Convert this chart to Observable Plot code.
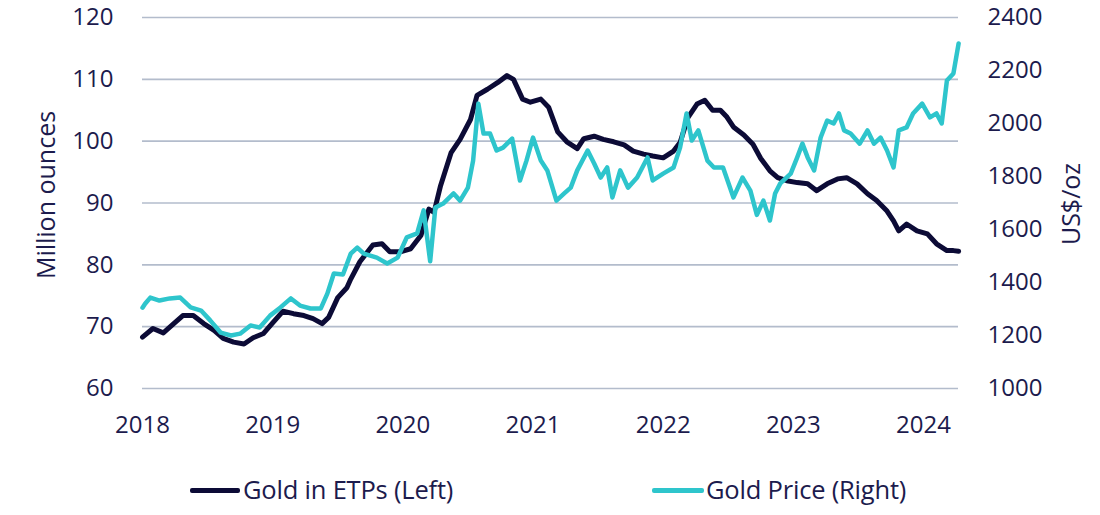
<!DOCTYPE html>
<html>
<head>
<meta charset="utf-8">
<script src="https://cdn.jsdelivr.net/npm/d3@7"></script>
<script src="https://cdn.jsdelivr.net/npm/@observablehq/plot@0.6"></script>
<style>
  html, body { margin: 0; padding: 0; background: #ffffff; }
  #wrap { position: relative; width: 1100px; height: 515px; font-family: "Open Sans", sans-serif; color: #1c1b4d; }
  #chart { position: absolute; left: 0; top: 0; }
  .sw { position: absolute; height: 5px; border-radius: 2px; }
  .lt { position: absolute; font-size: 25.5px; line-height: 30px; white-space: nowrap; letter-spacing: -0.2px; }
</style>
</head>
<body>
<div id="wrap">
  <div id="chart"></div>
  <div class="sw" style="left:190px; top:488px; width:50px; background:#0c0b36;"></div>
  <div class="lt" id="lt1" style="left:243px; top:474px;">Gold in ETPs (Left)</div>
  <div class="sw" style="left:652px; top:488px; width:52px; background:#2ec5cc;"></div>
  <div class="lt" id="lt2" style="left:706px; top:474px;">Gold Price (Right)</div>
</div>
<script>
// Gold held in ETPs, million ounces (left axis), by decimal year
const etpYear = [2018.00,2018.08,2018.16,2018.24,2018.31,2018.39,2018.47,2018.55,2018.62,2018.70,2018.78,2018.85,2018.93,
  2019.00,2019.08,2019.16,2019.24,2019.31,2019.38,2019.43,2019.50,2019.57,2019.60,2019.67,2019.77,2019.84,2019.90,2019.98,
  2020.06,2020.14,2020.20,2020.24,2020.29,2020.37,2020.44,2020.52,2020.57,2020.65,2020.73,2020.80,2020.85,2020.92,2020.98,
  2021.06,2021.12,2021.19,2021.26,2021.34,2021.39,2021.47,2021.54,2021.62,2021.70,2021.77,2021.85,2021.92,
  2022.00,2022.08,2022.13,2022.19,2022.26,2022.32,2022.38,2022.44,2022.49,2022.54,2022.62,2022.69,2022.75,2022.82,2022.88,2022.95,
  2023.03,2023.11,2023.18,2023.26,2023.34,2023.41,2023.49,2023.57,2023.64,2023.72,2023.77,2023.81,2023.87,2023.95,
  2024.03,2024.10,2024.18,2024.23,2024.27];
const etpMoz = [68.3,69.7,69.0,70.5,71.8,71.8,70.5,69.4,68.1,67.5,67.2,68.2,68.9,
  70.6,72.5,72.1,71.8,71.3,70.5,71.5,74.7,76.3,77.7,80.5,83.2,83.4,82.1,82.1,
  82.6,84.8,89.0,88.5,92.8,98.1,100.3,103.5,107.4,108.4,109.5,110.6,110.0,106.8,106.3,
  106.8,105.5,101.5,99.9,98.8,100.4,100.8,100.3,99.9,99.4,98.4,97.9,97.6,
  97.3,98.4,99.8,103.8,106.0,106.6,105.0,105.0,103.9,102.3,101.0,99.5,97.2,95.2,94.1,93.6,
  93.3,93.1,92.0,93.1,93.9,94.1,93.1,91.5,90.4,88.7,87.1,85.5,86.6,85.5,
  85.0,83.4,82.3,82.3,82.2];

// Gold price, US$/oz (right axis), by decimal year
const priceYear = [2018.00,2018.02,2018.06,2018.13,2018.21,2018.29,2018.37,2018.45,2018.52,2018.60,2018.68,2018.75,2018.83,2018.90,2018.98,
  2019.06,2019.14,2019.21,2019.29,2019.37,2019.42,2019.47,2019.54,2019.60,2019.65,2019.70,2019.80,2019.88,2019.96,
  2020.03,2020.11,2020.16,2020.21,2020.25,2020.31,2020.39,2020.44,2020.50,2020.54,2020.58,2020.62,2020.67,2020.72,2020.77,2020.84,2020.90,2020.95,
  2021.00,2021.06,2021.11,2021.18,2021.24,2021.29,2021.34,2021.42,2021.47,2021.52,2021.57,2021.61,2021.67,2021.73,2021.80,2021.88,2021.92,
  2022.00,2022.08,2022.13,2022.18,2022.22,2022.27,2022.34,2022.39,2022.46,2022.54,2022.61,2022.67,2022.72,2022.77,2022.82,2022.86,2022.90,2022.98,
  2023.03,2023.07,2023.11,2023.16,2023.21,2023.26,2023.31,2023.35,2023.39,2023.44,2023.51,2023.57,2023.62,2023.67,2023.72,2023.77,2023.81,2023.87,2023.92,2023.99,
  2024.05,2024.10,2024.14,2024.18,2024.23,2024.27];
const priceUsd = [1305,1320,1343,1332,1340,1343,1306,1294,1257,1211,1200,1207,1238,1230,1275,
  1306,1340,1313,1302,1302,1358,1434,1430,1509,1532,1509,1494,1472,1494,
  1570,1585,1672,1480,1683,1698,1736,1709,1758,1860,2075,1962,1962,1898,1909,1943,1785,1860,
  1947,1860,1823,1709,1736,1758,1823,1898,1849,1796,1834,1721,1823,1758,1796,1872,1785,
  1811,1834,1909,2038,1936,1974,1860,1834,1834,1721,1796,1747,1655,1709,1634,1736,1774,1811,
  1872,1924,1872,1823,1947,2011,2000,2038,1974,1962,1924,1974,1924,1947,1898,1834,1974,1985,2038,2075,
  2023,2038,2000,2162,2189,2302];

const yearTicks = [2018, 2019, 2020, 2021, 2022, 2023, 2024];
const leftTicks = [60, 70, 80, 90, 100, 110, 120];
const rightTicks = [1000, 1200, 1400, 1600, 1800, 2000, 2200, 2400];
const leftTitle = "Million ounces";
const rightTitle = "US$/oz";

const NAVY = "#0c0b36", CYAN = "#2ec5cc", TEXT = "#1c1b4d", GRID = "#b3bccc";
// map the right-axis price onto the left scale
const toLeft = p => 60 + (p - 1000) * 60 / 1400;
const fromLeft = v => String(Math.round(1000 + (v - 60) * 1400 / 60));

const etp = etpYear.map((x, i) => ({x, y: etpMoz[i]}));
const price = priceYear.map((x, i) => ({x, y: toLeft(priceUsd[i])}));

const chart = Plot.plot({
  width: 1100,
  height: 450,
  marginLeft: 142,
  marginRight: 142,
  marginTop: 17,
  marginBottom: 62,
  style: {fontFamily: "'Open Sans', sans-serif", fontSize: "24px", color: TEXT, background: "#ffffff", overflow: "visible"},
  x: {domain: [2018, 2024.269]},
  y: {domain: [60, 120]},
  marks: [
    Plot.ruleY(leftTicks, {stroke: GRID, strokeWidth: 1.6}),
    Plot.axisY(leftTicks, {anchor: "left", tickSize: 0, tickPadding: 29, label: null, fill: TEXT}),
    Plot.axisY(rightTicks.map(toLeft), {anchor: "right", tickSize: 0, tickPadding: 29, tickFormat: fromLeft, label: null, fill: TEXT}),
    Plot.axisX(yearTicks, {anchor: "bottom", tickSize: 0, tickPadding: 27, tickFormat: "d", label: null, fill: TEXT}),
    Plot.line(etp, {x: "x", y: "y", stroke: NAVY, strokeWidth: 5, strokeLinejoin: "round", strokeLinecap: "round"}),
    Plot.line(price, {x: "x", y: "y", stroke: CYAN, strokeWidth: 4.5, strokeLinejoin: "round", strokeLinecap: "round"})
  ]
});

// axis titles
const svg = d3.select(chart);
svg.append("text")
  .attr("transform", "translate(45,195) rotate(-90)")
  .attr("text-anchor", "middle").attr("dominant-baseline", "central")
  .attr("fill", TEXT).style("font-size", "25px").text(leftTitle);
svg.append("text")
  .attr("transform", "translate(1070,204) rotate(-90)")
  .attr("text-anchor", "middle").attr("dominant-baseline", "central")
  .attr("fill", TEXT).style("font-size", "25px").text(rightTitle);

document.getElementById("chart").appendChild(chart);
</script>
</body>
</html>
